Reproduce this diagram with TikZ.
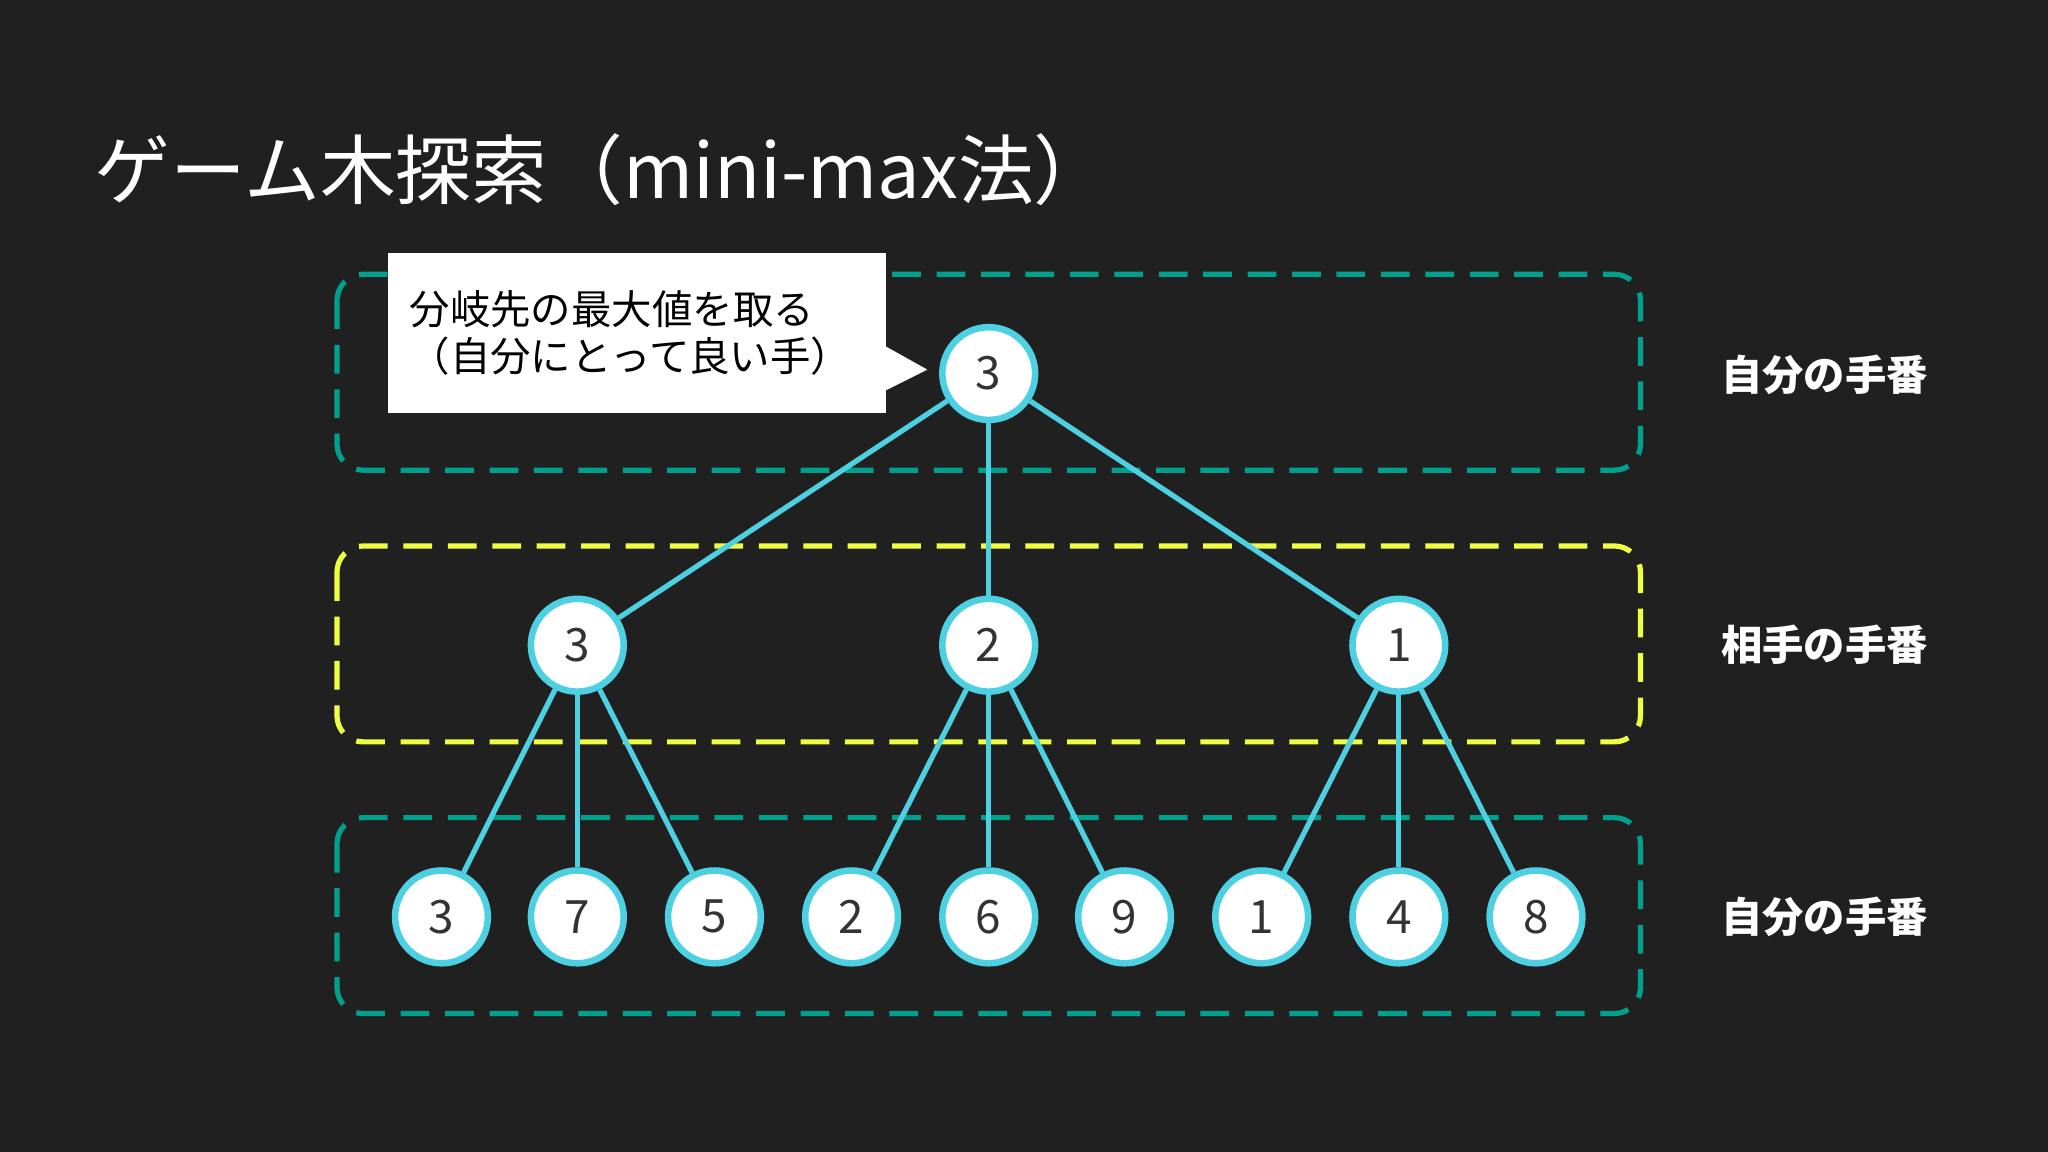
\documentclass[tikz,border=0pt]{standalone}
\usepackage{fontspec}
\setmainfont{Noto Sans CJK JP}
\usetikzlibrary{calc}
\definecolor{bg}{HTML}{202020}
\definecolor{cy}{HTML}{4DD0E1}
\definecolor{tl}{HTML}{00A08C}
\definecolor{yl}{HTML}{EEFF41}
\tikzset{
 nd/.style={circle,draw=cy,fill=white,line width=0.05cm,minimum size=0.71cm,inner sep=0pt,font=\fontsize{10}{12}\selectfont,text=black!80},
 ed/.style={draw=cy,line width=0.04cm},
 band/.style={dashed,line width=0.04cm,rounded corners=0.2cm,dash pattern=on 0.22cm off 0.12cm},
 side/.style={text=white,font=\bfseries\fontsize{9}{11}\selectfont}
}
\begin{document}
\begin{tikzpicture}[x=0.01cm,y=-0.01cm]
\fill[bg] (0,0) rectangle (1568,882);
\useasboundingbox (0,0) rectangle (1568,882);
\node[anchor=west,text=white,font=\fontsize{16.5}{20}\selectfont,inner sep=0] (title) at (72,130) {ゲーム木探索（mini-max法）};
\draw[band,draw=tl] (258,210) rectangle (1256,360);
\draw[band,draw=yl] (258,418) rectangle (1256,568);
\draw[band,draw=tl] (258,626) rectangle (1256,776);
\node[side] (l1) at (1397,287) {自分の手番};
\node[side] (l2) at (1397,494) {相手の手番};
\node[side] (l3) at (1397,702) {自分の手番};
\node[nd] (r) at (757,286) {3};
\node[nd] (a) at (442,494) {3};
\node[nd] (b) at (757,494) {2};
\node[nd] (c) at (1071,494) {1};
\foreach \n/\x/\v in {a1/338/3,a2/442/7,a3/547/5,b1/652/2,b2/757/6,b3/861/9,c1/966/1,c2/1071/4,c3/1176/8}
  \node[nd] (\n) at (\x,702) {\v};
\foreach \p/\c in {r/a,r/b,r/c,a/a1,a/a2,a/a3,b/b1,b/b2,b/b3,c/c1,c/c2,c/c3}
  \draw[ed] (\p) -- (\c);
\fill[white] (297,194) rectangle (678,316);
\coordinate (tip) at (710,283);
\fill[white] (676,264) -- (tip) -- (676,300) -- cycle;
\node[anchor=north west,align=left,text=black,font=\fontsize{8.8}{10.2}\selectfont,inner sep=0] (call) at (313,222) {分岐先の最大値を取る\\（自分にとって良い手）};
\end{tikzpicture}
\end{document}
